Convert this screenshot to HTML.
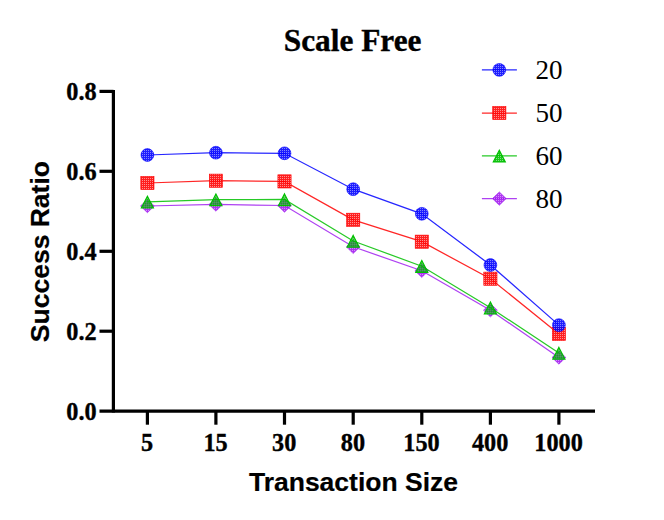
<!DOCTYPE html>
<html><head><meta charset="utf-8"><title>Scale Free</title>
<style>
html,body{margin:0;padding:0;background:#fff;}
body{width:664px;height:520px;overflow:hidden;font-family:"Liberation Sans",sans-serif;}
svg{display:block}
.tk{font-family:"Liberation Serif",serif;font-weight:bold;font-size:24px;fill:#000;stroke:#000;stroke-width:0.35px}
.lg{font-family:"Liberation Serif",serif;font-size:26px;fill:#000}
.ax{font-family:"Liberation Sans",sans-serif;font-weight:bold;font-size:26.5px;fill:#000;stroke:#000;stroke-width:0.2px}
.tt{font-family:"Liberation Serif",serif;font-weight:bold;font-size:30px;fill:#000;stroke:#000;stroke-width:0.35px}
</style></head><body>
<svg width="664" height="520" viewBox="0 0 664 520">
<defs>
<pattern id="pb" width="2" height="2" patternUnits="userSpaceOnUse"><rect width="2" height="2" fill="#0000ff" fill-opacity="0.88"/><rect x="0" y="0" width="1" height="1" fill="#ffffff" fill-opacity="0.45"/></pattern>
<pattern id="pr" width="2" height="2" patternUnits="userSpaceOnUse"><rect width="2" height="2" fill="#ff0000" fill-opacity="0.88"/><rect x="0" y="0" width="1" height="1" fill="#ffffff" fill-opacity="0.5"/></pattern>
<pattern id="pg" width="2" height="2" patternUnits="userSpaceOnUse"><rect width="2" height="2" fill="#00b400" fill-opacity="0.62"/><rect x="1" y="1" width="1" height="1" fill="#00c000" fill-opacity="0.6"/></pattern>
<pattern id="pg2" width="2" height="2" patternUnits="userSpaceOnUse"><rect width="2" height="2" fill="#00c000" fill-opacity="0.9"/><rect x="0" y="0" width="1" height="1" fill="#ffffff" fill-opacity="0.45"/></pattern>
<pattern id="pp" width="2" height="2" patternUnits="userSpaceOnUse"><rect width="2" height="2" fill="#a010f0" fill-opacity="0.85"/><rect x="0" y="0" width="1" height="1" fill="#ffffff" fill-opacity="0.45"/></pattern>
</defs>
<rect width="664" height="520" fill="#fff"/>
<polyline points="147.4,206.0 215.9,204.5 284.5,205.5 353.2,246.8 421.8,270.7 490.4,310.2 558.9,357.5" fill="none" stroke="#a020f0" stroke-width="1.25" stroke-opacity="0.85"/>
<polygon points="147.4,199.3 154.3,206.0 147.4,212.7 140.5,206.0" fill="url(#pp)" stroke="#a020f0" stroke-width="0.6"/>
<polygon points="215.9,197.8 222.8,204.5 215.9,211.2 209.0,204.5" fill="url(#pp)" stroke="#a020f0" stroke-width="0.6"/>
<polygon points="284.5,198.8 291.4,205.5 284.5,212.2 277.6,205.5" fill="url(#pp)" stroke="#a020f0" stroke-width="0.6"/>
<polygon points="353.2,240.1 360.1,246.8 353.2,253.5 346.3,246.8" fill="url(#pp)" stroke="#a020f0" stroke-width="0.6"/>
<polygon points="421.8,264.0 428.7,270.7 421.8,277.4 414.9,270.7" fill="url(#pp)" stroke="#a020f0" stroke-width="0.6"/>
<polygon points="490.4,303.5 497.3,310.2 490.4,316.9 483.5,310.2" fill="url(#pp)" stroke="#a020f0" stroke-width="0.6"/>
<polygon points="558.9,350.8 565.8,357.5 558.9,364.2 552.0,357.5" fill="url(#pp)" stroke="#a020f0" stroke-width="0.6"/>
<polyline points="147.4,201.9 215.9,199.6 284.5,199.5 353.2,241.0 421.8,266.2 490.4,307.7 558.9,353.0" fill="none" stroke="#00c000" stroke-width="1.25" stroke-opacity="0.85"/>
<polygon points="147.4,196.3 153.4,208.0 141.4,208.0" fill="url(#pg)" stroke="#00c000" stroke-width="1.2"/>
<polygon points="215.9,194.0 221.9,205.7 209.9,205.7" fill="url(#pg)" stroke="#00c000" stroke-width="1.2"/>
<polygon points="284.5,193.9 290.5,205.6 278.5,205.6" fill="url(#pg)" stroke="#00c000" stroke-width="1.2"/>
<polygon points="353.2,235.4 359.2,247.1 347.2,247.1" fill="url(#pg)" stroke="#00c000" stroke-width="1.2"/>
<polygon points="421.8,260.6 427.8,272.3 415.8,272.3" fill="url(#pg)" stroke="#00c000" stroke-width="1.2"/>
<polygon points="490.4,302.1 496.4,313.8 484.4,313.8" fill="url(#pg)" stroke="#00c000" stroke-width="1.2"/>
<polygon points="558.9,347.4 564.9,359.1 552.9,359.1" fill="url(#pg)" stroke="#00c000" stroke-width="1.2"/>
<polyline points="147.4,183.0 215.9,180.7 284.5,181.4 353.2,219.8 421.8,241.7 490.4,278.7 558.9,333.9" fill="none" stroke="#ff0000" stroke-width="1.25" stroke-opacity="0.85"/>
<rect x="140.8" y="176.4" width="13.2" height="13.2" fill="url(#pr)" stroke="#ff0000" stroke-width="0.6"/>
<rect x="209.3" y="174.1" width="13.2" height="13.2" fill="url(#pr)" stroke="#ff0000" stroke-width="0.6"/>
<rect x="277.9" y="174.8" width="13.2" height="13.2" fill="url(#pr)" stroke="#ff0000" stroke-width="0.6"/>
<rect x="346.6" y="213.2" width="13.2" height="13.2" fill="url(#pr)" stroke="#ff0000" stroke-width="0.6"/>
<rect x="415.2" y="235.1" width="13.2" height="13.2" fill="url(#pr)" stroke="#ff0000" stroke-width="0.6"/>
<rect x="483.8" y="272.1" width="13.2" height="13.2" fill="url(#pr)" stroke="#ff0000" stroke-width="0.6"/>
<rect x="552.3" y="327.3" width="13.2" height="13.2" fill="url(#pr)" stroke="#ff0000" stroke-width="0.6"/>
<polyline points="147.4,155.0 215.9,152.7 284.5,153.3 353.2,189.2 421.8,213.8 490.4,265.0 558.9,325.1" fill="none" stroke="#0000ff" stroke-width="1.25" stroke-opacity="0.85"/>
<circle cx="147.4" cy="155.0" r="6.4" fill="url(#pb)" stroke="#0000ff" stroke-width="0.6"/>
<circle cx="215.9" cy="152.7" r="6.4" fill="url(#pb)" stroke="#0000ff" stroke-width="0.6"/>
<circle cx="284.5" cy="153.3" r="6.4" fill="url(#pb)" stroke="#0000ff" stroke-width="0.6"/>
<circle cx="353.2" cy="189.2" r="6.4" fill="url(#pb)" stroke="#0000ff" stroke-width="0.6"/>
<circle cx="421.8" cy="213.8" r="6.4" fill="url(#pb)" stroke="#0000ff" stroke-width="0.6"/>
<circle cx="490.4" cy="265.0" r="6.4" fill="url(#pb)" stroke="#0000ff" stroke-width="0.6"/>
<circle cx="558.9" cy="325.1" r="6.4" fill="url(#pb)" stroke="#0000ff" stroke-width="0.6"/>
<g stroke="#000" stroke-width="3.2" fill="none" stroke-linecap="butt">
<path d="M113.4,89.9 V412.6"/>
<path d="M99.5,411.2 H595"/>
<path d="M99.5,91.4 H113.5"/>
<path d="M99.5,171.3 H113.5"/>
<path d="M99.5,251.3 H113.5"/>
<path d="M99.5,331.2 H113.5"/>
<path d="M147.4,411 V424.7"/>
<path d="M215.9,411 V424.7"/>
<path d="M284.5,411 V424.7"/>
<path d="M353.2,411 V424.7"/>
<path d="M421.8,411 V424.7"/>
<path d="M490.4,411 V424.7"/>
<path d="M558.9,411 V424.7"/>
</g>
<text class="tk" transform="translate(96.6,100.3) scale(1.01,1.07)" text-anchor="end">0.8</text>
<text class="tk" transform="translate(96.6,180.2) scale(1.01,1.07)" text-anchor="end">0.6</text>
<text class="tk" transform="translate(96.6,260.2) scale(1.01,1.07)" text-anchor="end">0.4</text>
<text class="tk" transform="translate(96.6,340.1) scale(1.01,1.07)" text-anchor="end">0.2</text>
<text class="tk" transform="translate(96.6,420.0) scale(1.01,1.07)" text-anchor="end">0.0</text>
<text class="tk" transform="translate(147.1,450.5) scale(1.01,1.07)" text-anchor="middle">5</text>
<text class="tk" transform="translate(215.6,450.5) scale(1.01,1.07)" text-anchor="middle">15</text>
<text class="tk" transform="translate(284.2,450.5) scale(1.01,1.07)" text-anchor="middle">30</text>
<text class="tk" transform="translate(352.9,450.5) scale(1.01,1.07)" text-anchor="middle">80</text>
<text class="tk" transform="translate(421.5,450.5) scale(1.01,1.07)" text-anchor="middle">150</text>
<text class="tk" transform="translate(490.1,450.5) scale(1.01,1.07)" text-anchor="middle">400</text>
<text class="tk" transform="translate(558.6,450.5) scale(1.01,1.07)" text-anchor="middle">1000</text>
<text class="tt" transform="translate(352.6,51.2) scale(1.045,1.07)" text-anchor="middle">Scale Free</text>
<text class="ax" x="353.5" y="490.7" text-anchor="middle">Transaction Size</text>
<text class="ax" transform="translate(48.6,251.6) rotate(-90)" text-anchor="middle">Success Ratio</text>
<path d="M481.9,69.9 H516.9" stroke="#0000ff" stroke-width="1.25" stroke-opacity="0.85"/>
<circle cx="499.3" cy="69.9" r="6.4" fill="url(#pb)" stroke="#0000ff" stroke-width="0.6"/>
<text class="lg" transform="translate(535.4,79.3) scale(1.04,1.06)">20</text>
<path d="M481.9,113 H516.9" stroke="#ff0000" stroke-width="1.25" stroke-opacity="0.85"/>
<rect x="492.7" y="106.4" width="13.2" height="13.2" fill="url(#pr)" stroke="#ff0000" stroke-width="0.6"/>
<text class="lg" transform="translate(535.4,122.4) scale(1.04,1.06)">50</text>
<path d="M481.9,155.9 H516.9" stroke="#00c000" stroke-width="1.25" stroke-opacity="0.85"/>
<polygon points="499.3,150.3 505.3,162.0 493.3,162.0" fill="url(#pg2)" stroke="#00c000" stroke-width="1.2"/>
<text class="lg" transform="translate(535.4,165.3) scale(1.04,1.06)">60</text>
<path d="M481.9,198.6 H516.9" stroke="#a020f0" stroke-width="1.25" stroke-opacity="0.85"/>
<polygon points="499.3,191.9 506.2,198.6 499.3,205.3 492.4,198.6" fill="url(#pp)" stroke="#a020f0" stroke-width="0.6"/>
<text class="lg" transform="translate(535.4,208.0) scale(1.04,1.06)">80</text>
</svg></body></html>
